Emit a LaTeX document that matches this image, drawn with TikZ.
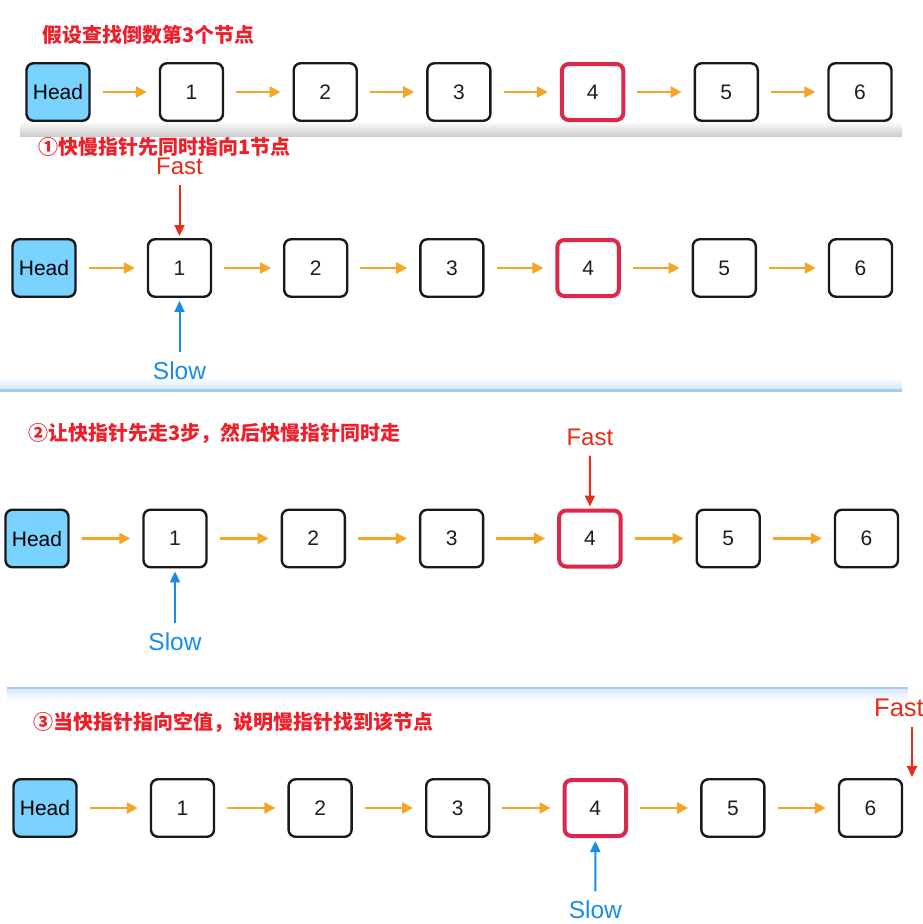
\documentclass[tikz,border=0pt]{standalone}
\usepackage{fontspec}
\setmainfont{Liberation Sans}
\newfontfamily\cjk{Noto Sans CJK SC}
\usetikzlibrary{arrows.meta}

\definecolor{headblue}{HTML}{7AD2FF}
\definecolor{keyred}{HTML}{DC284B}
\definecolor{fastred}{HTML}{E52D19}
\definecolor{slowblue}{HTML}{198CE6}
\definecolor{linkorange}{HTML}{F5A523}
\definecolor{titlered}{HTML}{EE1E2A}
\definecolor{sepblue}{HTML}{A8CBF5}
\definecolor{boxtext}{HTML}{1E1E1E}

\tikzset{
  listbox/.style={draw=black!90, line width=2.4pt, rounded corners=7pt,
    minimum width=63pt, minimum height=57.5pt, inner sep=0pt, fill=white,
    text=boxtext, font=\fontsize{21}{24}\selectfont},
  headbox/.style={listbox, fill=headblue, text=black},
  keybox/.style={listbox, draw=keyred, line width=4pt,
    minimum width=61.5pt, minimum height=56pt},
  link/.style={draw=linkorange, line width=2.4pt,
    -{Triangle[length=11pt,width=11pt]}, shorten <=12pt, shorten >=12pt},
  fastptr/.style={draw=fastred, line width=2pt,
    -{Triangle[length=11pt,width=10pt]}},
  slowptr/.style={draw=slowblue, line width=2pt,
    -{Triangle[length=11pt,width=10pt]}},
  fastlabel/.style={text=fastred, inner sep=0pt, font=\fontsize{24}{28}\selectfont},
  slowlabel/.style={text=slowblue, inner sep=0pt, font=\fontsize{24.5}{28}\selectfont},
  steptitle/.style={text=titlered, anchor=west, inner sep=0pt,
    font=\cjk\bfseries\fontsize{20}{24}\selectfont},
}

% one row: #1 prefix, #2 row y, #3 head x, #4 first node x, #5 node pitch
\newcommand{\chainrow}[5]{%
  \node[headbox] (#1h) at (#3,#2) {Head};
  \foreach \i in {1,...,6}{
    \pgfmathsetmacro{\xx}{#4+(\i-1)*#5}
    \ifnum\i=4
      \node[keybox] (#1n\i) at (\xx,#2) {\i};
    \else
      \node[listbox] (#1n\i) at (\xx,#2) {\i};
    \fi
  }
  \draw[link] (#1h) -- (#1n1);
  \foreach \i [evaluate=\i as \j using int(\i+1)] in {1,...,5}
    \draw[link] (#1n\i) -- (#1n\j);
}

\begin{document}
\begin{tikzpicture}[x=1pt,y=-1pt]
  \useasboundingbox (0,0) rectangle (922,924);
  \fill[white] (0,0) rectangle (922,924);
  \clip (0,0) rectangle (922,924);

  % panel separators
  \shade[top color=white, bottom color=black!20] (20,121) rectangle (902,136);
  \shade[top color=white, bottom color=sepblue!45] (0,377) rectangle (902,389);
  \fill[sepblue] (0,389) rectangle (902,391.5);
  \fill[sepblue] (7,686.5) rectangle (908,689);
  \shade[top color=sepblue!45, bottom color=white] (7,689) rectangle (908,701);

  % start: the list
  \node[steptitle] (t0) at (42,35) {假设查找倒数第3个节点};
  \chainrow{a}{92}{58}{191.5}{133.7}

  % step 1: both pointers on node 1
  \node[steptitle] (t1) at (38,147) {①快慢指针先同时指向1节点};
  \chainrow{b}{268}{44}{179.5}{136.2}
  \node[fastlabel] (bfast) at (179.5,166.5) {Fast};
  \node[slowlabel] (bslow) at (179.5,370.5) {Slow};
  \draw[fastptr, shorten <=10pt, shorten >=2pt] (bfast) -- (bn1);
  \draw[slowptr, shorten <=9pt, shorten >=3pt] (bslow) -- (bn1);

  % step 2: fast pointer three steps ahead
  \node[steptitle] (t2) at (28,433) {②让快指针先走3步，然后快慢指针同时走};
  \chainrow{c}{538.5}{37}{175}{138.3}
  \node[fastlabel] (cfast) at (589.9,437) {Fast};
  \node[slowlabel] (cslow) at (175,641.5) {Slow};
  \draw[fastptr, shorten <=10pt, shorten >=2pt] (cfast) -- (cn4);
  \draw[slowptr, shorten <=9pt, shorten >=3pt] (cslow) -- (cn1);

  % step 3: fast pointer past the end
  \node[steptitle] (t3) at (33,722) {③当快指针指向空值，说明慢指针找到该节点};
  \chainrow{d}{808}{45}{182.5}{137.6}
  \node[fastlabel, anchor=west, font=\fontsize{25.5}{28}\selectfont] (dfast) at (874,708) {Fast};
  \node[slowlabel] (dslow) at (595.3,909.5) {Slow};
  \coordinate (dnull) at (912,727);
  \coordinate (dnulltip) at (912,777);
  \draw[fastptr] (dnull) -- (dnulltip);
  \draw[slowptr, shorten <=9pt, shorten >=3pt] (dslow) -- (dn4);
\end{tikzpicture}
\end{document}
